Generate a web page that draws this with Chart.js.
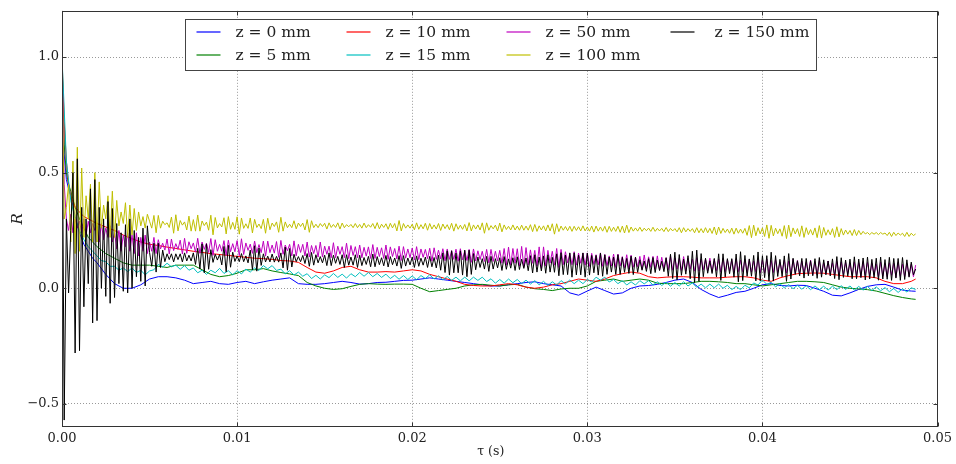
<!DOCTYPE html>
<html><head><meta charset="utf-8">
<script src="https://cdn.jsdelivr.net/npm/chart.js@4"></script>
<style>html,body{margin:0;padding:0;background:#fff;}canvas{display:block;}</style>
</head><body>
<canvas id="c" width="956" height="464"></canvas>
<script>
// ---- labels / ticks ----
const seriesLabels = ['z = 0 mm','z = 5 mm','z = 10 mm','z = 15 mm','z = 50 mm','z = 100 mm','z = 150 mm'];
const seriesColors = ['#0000ff','#008000','#ff0000','#00bfbf','#bf00bf','#bfbf00','#000000'];
const xTicks = [0, 0.01, 0.02, 0.03, 0.04, 0.05];
const yTicks = [-0.5, 0, 0.5, 1.0];
const xTitle = 'τ (s)';
const yTitle = 'R';

// ---- sample times (s) ----
const tauSmooth = [0, 0.000125, 0.00025, 0.000375, 0.0005, 0.00075, 0.001, 0.00125, 0.0015, 0.00175, 0.002]
  .concat(Array.from({length: 93}, (_, i) => +(0.0025 + i * 0.0005).toFixed(5)), [0.04875]);
const tauCyan = Array.from({length: 196}, (_, i) => +(i * 0.00025).toFixed(6));
const tauFine = Array.from({length: 391}, (_, i) => +(i * 0.000125).toFixed(6));

// ---- series values R(tau) ----
const rZ0 = [1.0,.58,.47,.43,.40,.31,.24,.19,.16,.13,.11,
 .06,.02,0,0,.015,.04,.05,.05,.045,.035,.02,.025,.03,.02,.017,
 .025,.03,.02,.028,.035,.04,.045,.02,.017,.017,
 .02,.025,.03,.025,.018,.02,.025,.026,.03,.034,
 .035,.04,.045,.04,.035,.03,.025,.02,.015,.01,
 .01,.015,.02,.025,.028,.02,.015,.01,-.02,-.03,
 -.012,.005,-.01,-.025,-.02,0,.01,.012,.017,.025,
 .035,.04,.025,-.005,-.025,-.04,-.03,-.018,-.013,0,
 .015,.02,.012,.01,.013,.012,0,-.013,-.03,-.033,
 -.02,-.005,.008,.015,.017,.005,-.008,-.012,
 -.013];
const rZ5 = [1.0,.62,.50,.45,.42,.35,.30,.26,.22,.20,.18,
 .15,.13,.11,.10,.10,.10,.095,.09,.10,.10,.10,.08,.06,.05,.055,
 .065,.08,.08,.085,.075,.068,.062,.055,.025,.01,
 0,-.005,-.002,.008,.017,.02,.018,.017,.018,.018,
 .017,0,-.015,-.01,-.005,0,.01,.015,.017,.013,
 .01,.015,.017,.005,-.002,-.005,-.01,-.003,0,0,
 .01,.03,.035,.04,.03,.035,.04,.035,.022,.02,
 .02,.02,.025,.03,.03,.028,.025,.02,.02,.015,
 .01,.015,.02,.025,.03,.03,.028,.025,.015,.005,
 0,-.003,-.006,-.012,-.022,-.032,-.04,-.046,
 -.048];
const rZ10 = [1.0,.72,.55,.45,.40,.35,.33,.31,.30,.29,.28,
 .265,.25,.23,.215,.20,.19,.185,.178,.172,.166,.16,.155,.15,.146,.142,
 .138,.134,.13,.128,.125,.12,.118,.112,.09,.07,
 .065,.075,.09,.095,.08,.07,.07,.072,.07,.075,
 .08,.075,.06,.05,.04,.03,.017,.012,.01,.01,
 .015,.02,.015,.005,0,.005,.015,.02,.03,.04,
 .035,.03,.04,.055,.063,.07,.065,.05,.045,.048,
 .05,.05,.048,.045,.045,.045,.048,.05,.05,.045,
 .035,.03,.045,.055,.063,.065,.066,.065,.06,.055,
 .05,.05,.05,.045,.03,.02,.02,.03,
 .04];
const rZ15 = [1.0,.55,.38,.30,.25,.21,.18,.16,.14,.12,
 .115,.095,.095,.078,.088,.072,.088,.068,.078,.058,
 .075,.08,.103,.092,.108,.093,.10,.082,.098,.078,
 .088,.067,.078,.06,.078,.067,.086,.064,.076,.058,
 .076,.062,.083,.07,.088,.077,.098,.084,.098,.077,
 .083,.062,.076,.057,.07,.052,.063,.042,.056,.04,
 .058,.046,.064,.047,.061,.044,.063,.05,.068,.052,
 .068,.05,.064,.047,.061,.042,.056,.039,.055,.038,
 .053,.037,.055,.042,.058,.04,.054,.036,.051,.034,
 .048,.032,.048,.032,.048,.034,.048,.029,.041,.022,
 .038,.022,.04,.024,.038,.02,.035,.018,.033,.015,
 .03,.012,.028,.014,.033,.019,.036,.02,.035,.02,
 .038,.027,.048,.035,.048,.027,.038,.02,.033,.014,
 .028,.014,.033,.019,.033,.014,.028,.012,.026,.009,
 .025,.01,.028,.01,.023,.004,.018,.002,.018,.002,
 .018,0,.013,-.006,.008,-.006,.013,.002,.023,.014,
 .036,.017,.026,.006,.02,.002,.016,-.002,.013,-.004,
 .011,-.006,.01,-.006,.009,-.008,.009,-.006,.011,-.005,
 .01,-.008,.008,-.008,.008,-.01,.006,-.011,.003,-.015,
 -.001,-.018,-.002,-.016,.002,-.005];
const rZ50 = [
 1.0,.45,.30,.25,.32,.24,.30,.26,
 .29,.24,.30,.23,.29,.24,.28,.25,
 .27,.20,.28,.21,.26,.22,.27,.20,
 .24,.17,.25,.16,.23,.18,.24,.16,
 .23,.15,.24,.14,.22,.16,.23,.15,
 .20,.16,.22,.15,.21,.17,.195,.165,
 .213,.148,.213,.163,.193,.168,.208,.148,
 .216,.151,.201,.171,.196,.156,.216,.151,
 .20,.168,.195,.155,.215,.142,.21,.16,
 .19,.16,.206,.143,.208,.158,.193,.158,
 .206,.141,.214,.146,.196,.164,.191,.151,
 .204,.154,.189,.154,.204,.139,.204,.154,
 .187,.152,.202,.134,.207,.147,.187,.162,
 .19,.14,.205,.14,.19,.155,.19,.14,
 .20,.135,.185,.15,.185,.135,.20,.135,
 .182,.147,.182,.132,.197,.132,.182,.147,
 .18,.132,.195,.128,.185,.142,.18,.132,
 .187,.132,.177,.139,.179,.129,.189,.129,
 .177,.137,.175,.129,.187,.125,.179,.137,
 .172,.127,.182,.12,.18,.13,.17,.132,
 .174,.122,.18,.124,.17,.134,.168,.128,
 .173,.117,.175,.125,.165,.127,.171,.119,
 .17,.125,.163,.125,.169,.117,.171,.123,
 .162,.12,.168,.112,.17,.118,.162,.124,
 .16,.116,.168,.11,.168,.116,.16,.118,
 .164,.108,.172,.10,.178,.10,.172,.108,
 .171,.096,.181,.091,.176,.101,.166,.108,
 .164,.096,.179,.086,.179,.096,.164,.109,
 .16,.10,.172,.09,.168,.102,.158,.11,
 .15,.102,.158,.10,.152,.108,.152,.10,
 .153,.095,.151,.103,.145,.101,.153,.095,
 .146,.098,.14,.096,.148,.09,.148,.096,
 .137,.089,.145,.083,.143,.091,.135,.093,
 .138,.082,.144,.084,.136,.09,.138,.082,
 .14,.078,.134,.086,.132,.08,.14,.078,
 .131,.083,.129,.077,.137,.075,.131,.083,
 .126,.074,.132,.074,.126,.08,.126,.074,
 .13,.07,.126,.076,.126,.07,.13,.072,
 .124,.074,.124,.068,.128,.072,.122,.072,
 .126,.068,.124,.07,.118,.072,.128,.066,
 .122,.066,.126,.062,.12,.068,.124,.068,
 .114,.07,.122,.066,.118,.06,.126,.064,
 .12,.062,.118,.066,.112,.064,.122,.058,
 .116,.058,.12,.062,.11,.062,.118,.06,
 .11,.06,.116,.056,.114,.058,.112,.062,
 .108,.056,.114,.054,.11,.052,.116,.058,
 .112,.054,.108,.058,.104,.05,.114,.052,
 .106,.05,.11,.056,.108,.048,.112,.052,
 .104,.05,.108,.052,.104,.05,.10];
const rZ100 = [
 1.0,.30,.35,.45,.20,.55,.15,.61,
 .16,.52,.22,.40,.30,.45,.20,.50,
 .20,.46,.26,.36,.30,.40,.22,.42,
 .22,.38,.27,.33,.28,.37,.22,.36,
 .23,.345,.25,.33,.27,.31,.26,.32,
 .29,.26,.315,.24,.315,.26,.29,.275,
 .283,.263,.308,.238,.318,.248,.293,.273,
 .287,.252,.312,.247,.297,.247,.317,.247,
 .291,.271,.286,.251,.316,.231,.306,.261,
 .28,.265,.305,.235,.31,.255,.285,.255,
 .309,.234,.304,.259,.279,.259,.304,.239,
 .298,.263,.278,.258,.298,.238,.303,.253,
 .282,.267,.287,.242,.307,.247,.287,.262,
 .277,.262,.292,.257,.282,.267,.282,.252,
 .297,.242,.292,.262,.277,.262,.28,.267,
 .281,.256,.283,.263,.276,.263,.283,.256,
 .282,.262,.275,.266,.276,.262,.28,.262,
 .276,.26,.282,.262,.275,.264,.28,.258,
 .284,.257,.277,.263,.279,.255,.281,.261,
 .28,.248,.293,.248,.28,.26,.274,.26,
 .277,.253,.283,.255,.275,.257,.281,.251,
 .28,.256,.274,.256,.28,.25,.278,.258,
 .275,.253,.281,.247,.279,.255,.273,.255,
 .276,.248,.284,.248,.274,.256,.274,.252,
 .283,.238,.283,.251,.271,.257,.273,.248,
 .282,.244,.274,.254,.268,.252,.274,.252,
 .269,.251,.273,.251,.269,.251,.275,.245,
 .276,.246,.27,.252,.27,.248,.274,.248,
 .279,.234,.279,.245,.269,.251,.267,.249,
 .268,.246,.268,.25,.266,.248,.27,.248,
 .265,.247,.269,.243,.269,.247,.265,.247,
 .268,.242,.268,.246,.264,.246,.268,.242,
 .269,.239,.273,.241,.265,.247,.261,.247,
 .264,.246,.26,.249,.26,.246,.264,.246,
 .259,.248,.259,.245,.263,.245,.259,.248,
 .258,.244,.262,.24,.262,.244,.258,.246,
 .258,.24,.262,.24,.258,.24,.262,.24,
 .259,.237,.265,.231,.265,.237,.259,.241,
 .256,.238,.26,.234,.26,.238,.256,.238,
 .259,.229,.271,.219,.273,.227,.262,.235,
 .261,.224,.274,.216,.272,.226,.26,.236,
 .257,.225,.271,.215,.273,.223,.261,.235,
 .258,.224,.27,.22,.262,.232,.254,.23,
 .261,.219,.271,.217,.263,.229,.253,.231,
 .258,.22,.266,.222,.258,.23,.252,.234,
 .25,.228,.254,.228,.25,.232,.246,.235,
 .241,.232,.241,.234,.241,.232,.241,.234,
 .239,.228,.242,.224,.242,.228,.239,.23,
 .238,.224,.242,.224,.238,.228,.235];
const rZ150 = [
 1.0,-.57,.30,-.02,.25,.50,-.28,.56,
 -.27,.35,-.08,.30,.02,.43,-.15,.47,
 -.14,.35,0,.30,-.035,.375,-.065,.345,
 -.04,.28,.02,.24,-.013,.275,-.02,.30,
 0,.25,.05,.22,.03,.26,.01,.27,
 .155,.095,.195,.07,.195,.09,.165,.115,
 .149,.124,.149,.114,.149,.124,.149,.114,
 .153,.118,.143,.118,.153,.103,.173,.083,
 .192,.067,.192,.082,.167,.112,.147,.122,
 .146,.101,.181,.071,.186,.091,.156,.116,
 .14,.115,.15,.115,.14,.11,.165,.08,
 .184,.074,.174,.099,.149,.114,.139,.114,
 .148,.113,.138,.113,.153,.088,.178,.078,
 .172,.092,.147,.115,.137,.115,.142,.107,
 .15,.095,.155,.10,.145,.11,.137,.11,
 .143,.098,.153,.098,.143,.108,.138,.103,
 .145,.09,.145,.10,.135,.10,.145,.09,
 .143,.098,.133,.103,.138,.093,.148,.093,
 .137,.102,.132,.097,.142,.092,.137,.102,
 .131,.096,.141,.086,.141,.096,.131,.101,
 .135,.09,.14,.095,.13,.10,.135,.09,
 .138,.093,.133,.088,.143,.078,.153,.068,
 .162,.057,.162,.067,.152,.067,.162,.057,
 .165,.05,.165,.06,.15,.08,.135,.09,
 .128,.083,.138,.073,.138,.083,.128,.088,
 .132,.077,.137,.082,.127,.087,.132,.077,
 .136,.081,.126,.086,.131,.076,.141,.066,
 .145,.07,.135,.075,.14,.065,.145,.07,
 .134,.069,.149,.054,.154,.059,.144,.059,
 .153,.048,.153,.058,.143,.058,.153,.048,
 .152,.057,.142,.067,.142,.057,.152,.052,
 .145,.06,.135,.07,.135,.06,.145,.06,
 .134,.069,.129,.064,.139,.059,.134,.069,
 .123,.078,.118,.073,.128,.063,.133,.068,
 .122,.077,.117,.072,.132,.052,.147,.042,
 .156,.036,.146,.056,.126,.061,.141,.041,
 .16,.025,.165,.03,.15,.05,.13,.065,
 .119,.064,.129,.049,.149,.034,.149,.049,
 .128,.063,.128,.048,.148,.028,.158,.033,
 .142,.052,.127,.052,.142,.032,.157,.032,
 .141,.046,.141,.031,.156,.031,.141,.051,
 .125,.05,.14,.03,.15,.04,.13,.06,
 .119,.054,.129,.044,.129,.054,.119,.054,
 .128,.043,.133,.048,.123,.058,.118,.053,
 .127,.042,.137,.037,.132,.047,.122,.052,
 .126,.041,.136,.041,.126,.046,.131,.036,
 .135,.04,.125,.045,.13,.035,.135,.04,
 .124,.039,.134,.034,.129,.044,.129,.034,
 .133,.038,.123,.048,.113,.058,.083];

// ---- build chart ----
const pts = (xs, ys) => ys.slice(0, xs.length).map((y, i) => ({x: xs[i], y}));
const seriesX = [tauSmooth, tauSmooth, tauSmooth, tauCyan, tauFine, tauFine, tauFine];
const seriesY = [rZ0, rZ5, rZ10, rZ15, rZ50, rZ100, rZ150];

const datasets = seriesLabels.map((label, k) => ({
  label,
  data: pts(seriesX[k], seriesY[k]),
  borderColor: seriesColors[k],
  backgroundColor: seriesColors[k],
  borderWidth: 1,
  pointRadius: 0,
  tension: 0,
  fill: false,
  order: seriesLabels.length - 1 - k
}));

const FONT = "'DejaVu Serif', 'Liberation Serif', serif";
Chart.defaults.font.family = FONT;

const framePlugin = {
  id: 'frame',
  afterDatasetsDraw(chart) {
    const {ctx, chartArea: a, scales} = chart;
    const L = Math.round(a.left) + 0.5, R = Math.round(a.right) - 0.5;
    const T = Math.round(a.top) + 0.5, B = Math.round(a.bottom) - 0.5;
    ctx.save();
    ctx.strokeStyle = '#333';
    ctx.lineWidth = 1;
    ctx.strokeRect(L, T, R - L, B - T);
    ctx.beginPath();
    xTicks.forEach(v => {
      const px = Math.round(scales.x.getPixelForValue(v)) + 0.5;
      ctx.moveTo(px, B); ctx.lineTo(px, B - 4);
      ctx.moveTo(px, T); ctx.lineTo(px, T + 4);
    });
    yTicks.forEach(v => {
      const py = Math.round(scales.y.getPixelForValue(v)) + 0.5;
      ctx.moveTo(L, py); ctx.lineTo(L + 4, py);
      ctx.moveTo(R, py); ctx.lineTo(R - 4, py);
    });
    ctx.stroke();
    ctx.restore();
  },
  afterDraw(chart) {
    const {ctx, chartArea: a} = chart;
    const w = 631, h = 51;
    const bx = Math.round((a.left + a.right) / 2 - w / 2) + 1.5;
    const by = Math.round(a.top + 8) + 0.5;
    ctx.save();
    // x-axis title
    ctx.font = "12.5px " + FONT;
    ctx.fillStyle = '#222';
    ctx.textAlign = 'center';
    ctx.textBaseline = 'middle';
    ctx.fillText(xTitle, (a.left + a.right) / 2 - 9, 452);
    // legend
    ctx.fillStyle = '#fff';
    ctx.fillRect(bx, by, w, h);
    ctx.strokeStyle = '#444';
    ctx.lineWidth = 1;
    ctx.strokeRect(bx, by, w, h);
    const colLine = [11, 161, 321, 485];
    const colText = [50, 200, 360, 529];
    const rowY = [12, 35];
    ctx.font = "15.5px " + FONT;
    ctx.textAlign = 'left';
    seriesLabels.forEach((label, k) => {
      const col = Math.floor(k / 2), row = k % 2;
      const y = Math.round(by + rowY[row]);
      ctx.strokeStyle = seriesColors[k];
      ctx.lineWidth = 1.2;
      ctx.beginPath();
      ctx.moveTo(bx + colLine[col], y);
      ctx.lineTo(bx + colLine[col] + 24, y);
      ctx.stroke();
      ctx.fillStyle = '#222';
      ctx.fillText(label, bx + colText[col], y + 1);
    });
    ctx.restore();
  }
};

new Chart(document.getElementById('c'), {
  type: 'line',
  data: {datasets},
  plugins: [framePlugin],
  options: {
    responsive: false,
    animation: false,
    events: [],
    layout: {padding: {left: 0, right: 15, top: 8, bottom: 0}},
    plugins: {legend: {display: false}, tooltip: {enabled: false}},
    scales: {
      x: {
        type: 'linear', min: 0, max: 0.05,
        afterFit(s) { s.height = 37; },
        afterBuildTicks(s) { s.ticks = xTicks.map(v => ({value: v})); },
        ticks: {callback: v => Number(v).toFixed(2), color: '#222', font: {size: 13}, padding: 4, maxRotation: 0, autoSkip: false},
        grid: {color: 'rgba(0,0,0,0.4)', lineWidth: 1, drawTicks: false},
        border: {display: false, dash: [1, 2]},
        title: {display: false}
      },
      y: {
        type: 'linear', min: -0.6, max: 1.2,
        afterFit(s) { s.width = 62; },
        afterBuildTicks(s) { s.ticks = yTicks.map(v => ({value: v})); },
        ticks: {callback: v => (v < 0 ? '\u2212' : '') + Math.abs(v).toFixed(1), color: '#222', font: {size: 13}, padding: 3, autoSkip: false},
        grid: {color: 'rgba(0,0,0,0.4)', lineWidth: 1, drawTicks: false},
        border: {display: false, dash: [1, 2]},
        title: {display: true, text: yTitle, color: '#222', font: {size: 15, style: 'italic'}, padding: {top: 9, bottom: 0}}
      }
    }
  }
});
</script>
</body></html>
